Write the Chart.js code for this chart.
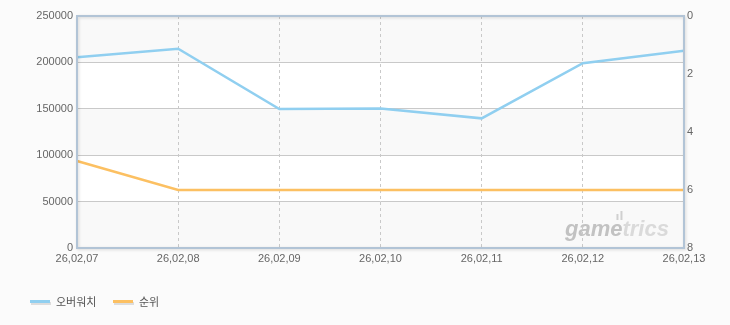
<!DOCTYPE html>
<html>
<head>
<meta charset="utf-8">
<script src="https://cdn.jsdelivr.net/npm/chart.js@4"></script>
<style>
  html, body { margin: 0; padding: 0; background: #fbfbfb; }
  #wrap { width: 730px; height: 325px; }
</style>
</head>
<body>
<div id="wrap"><canvas id="chart" width="730" height="325"></canvas></div>
<script>
// values
const dates = ['26,02,07', '26,02,08', '26,02,09', '26,02,10', '26,02,11', '26,02,12', '26,02,13']
const users = [205500, 214800, 149800, 150200, 139700, 199200, 212600]
const rank = [5, 6, 6, 6, 6, 6, 6]

const tickFont = { family: 'Arial, "Liberation Sans", sans-serif', size: 11 }
const gridColor = '#c9c9c9'

// band background, frame, watermark and legend
const decor = {
    id: 'decor',
    beforeDraw(chart) {
        const { ctx, chartArea: a, scales } = chart
        const y = scales.y
        ctx.save()
        const ticks = y.ticks
        for (let i = 0; i < ticks.length - 1; i++) {
            const y0 = y.getPixelForValue(ticks[i].value)
            const y1 = y.getPixelForValue(ticks[i + 1].value)
            ctx.fillStyle = i % 2 === 0 ? '#f9f9f9' : '#ffffff'
            ctx.fillRect(a.left, y1, a.right - a.left, y0 - y1)
        }
        // watermark
        ctx.font = 'italic bold 22px "Liberation Sans", Arial, sans-serif'
        ctx.textBaseline = 'alphabetic'
        const wx = a.right - 119, wy = a.bottom - 12
        ctx.fillStyle = '#c2c2c2'
        ctx.fillText('game', wx, wy)
        const w = ctx.measureText('game').width
        ctx.fillStyle = '#dadada'
        ctx.fillText('trics', wx + w, wy)
        ctx.fillStyle = '#d0d0d0'
        ctx.fillRect(wx + w - 6, wy - 22, 2, 6)
        ctx.fillRect(wx + w - 2, wy - 25, 2, 9)
        ctx.restore()
    },
    afterDraw(chart) {
        const { ctx, chartArea: a } = chart
        ctx.save()
        // frame with a soft shadow
        ctx.shadowColor = 'rgba(0,0,0,0.15)'
        ctx.shadowBlur = 3
        ctx.shadowOffsetX = 1
        ctx.shadowOffsetY = 1
        ctx.strokeStyle = '#b2c4d6'
        ctx.lineWidth = 2
        ctx.strokeRect(a.left, a.top, a.right - a.left, a.bottom - a.top)
        ctx.shadowColor = 'transparent'
        // legend
        ctx.font = '11px "Noto Sans CJK KR", sans-serif'
        ctx.textBaseline = 'middle'
        const pos = [30, 113]
        chart.data.datasets.forEach((ds, i) => {
            const x = pos[i], yy = 302
            ctx.fillStyle = '#dddddd'
            ctx.fillRect(x + 1, yy, 20, 3)
            ctx.fillStyle = ds.borderColor
            ctx.fillRect(x, yy - 2, 20, 3)
            ctx.fillStyle = '#555555'
            ctx.fillText(ds.label, x + 26, yy)
        })
        ctx.restore()
    }
}

class App {
    constructor() {
        const ctx = document.getElementById('chart').getContext('2d')
        this.drawChart(ctx)
    }

    drawChart(ctx) {
        const data = {
            labels: dates,
            datasets: [{
                label: '오버워치',
                data: users,
                borderColor: '#90cff0',
                borderWidth: 2.5,
                pointRadius: 0,
                tension: 0,
                yAxisID: 'y'
            }, {
                label: '순위',
                data: rank,
                borderColor: '#fcc062',
                borderWidth: 2.5,
                pointRadius: 0,
                tension: 0,
                yAxisID: 'y1'
            }]
        }

        const config = {
            type: 'line',
            data: data,
            plugins: [decor],
            options: {
                responsive: false,
                animation: false,
                layout: { padding: { top: 16, left: 0, right: 0, bottom: 0 } },
                plugins: { legend: { display: false }, tooltip: { enabled: false } },
                scales: {
                    x: {
                        offset: false,
                        grid: { color: gridColor, drawTicks: false },
                        border: { display: false, dash: [3, 3] },
                        ticks: { font: tickFont, color: '#666', padding: 4, maxRotation: 0, autoSkip: false },
                        afterFit: s => { s.height = 77 }
                    },
                    y: {
                        position: 'left',
                        min: 0, max: 250000,
                        grid: { color: gridColor, drawTicks: false },
                        border: { display: false },
                        ticks: { stepSize: 50000, font: tickFont, color: '#666', padding: 4, callback: v => String(v) },
                        afterFit: s => { s.width = 77 }
                    },
                    y1: {
                        position: 'right',
                        reverse: true,
                        min: 0, max: 8,
                        grid: { display: false, drawTicks: false },
                        border: { display: false },
                        ticks: { stepSize: 2, font: tickFont, color: '#666', padding: 3, callback: v => String(v) },
                        afterFit: s => { s.width = 46 }
                    }
                }
            }
        }
        this.myChart = new Chart(ctx, config)
    }
}

window.onload = () => new App()
</script>
</body>
</html>
